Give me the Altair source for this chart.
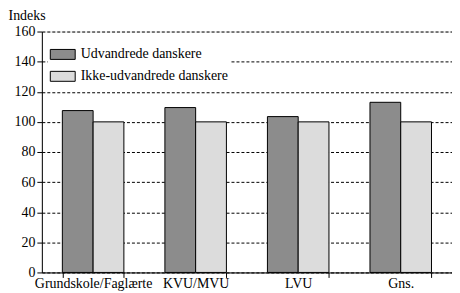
import altair as alt
import pandas as pd

categories = ["Grundskole/Faglærte", "KVU/MVU", "LVU", "Gns."]
series = ["Udvandrede danskere", "Ikke-udvandrede danskere"]
udvandrede = [107.5, 109.5, 103.5, 113]
ikke_udvandrede = [100, 100, 100, 100]

rows = []
for c, a, b in zip(categories, udvandrede, ikke_udvandrede):
    rows.append({"kategori": c, "gruppe": series[0], "indeks": a})
    rows.append({"kategori": c, "gruppe": series[1], "indeks": b})
df = pd.DataFrame(rows)

font = "Liberation Serif"

chart = alt.Chart(df).mark_bar(stroke="black", strokeWidth=1).encode(
    x=alt.X("kategori:N", sort=categories, title=None,
            scale=alt.Scale(paddingInner=0.4, paddingOuter=0.2),
            axis=alt.Axis(labelAngle=0, tickBand="extent", domainColor="black",
                          tickColor="black", labelColor="black", labelFont=font,
                          labelFontSize=14, labelPadding=-1, tickSize=5, grid=False)),
    xOffset=alt.XOffset("gruppe:N", sort=series),
    y=alt.Y("indeks:Q", title="Indeks",
            scale=alt.Scale(domain=[0, 160]),
            axis=alt.Axis(values=list(range(0, 161, 20)), grid=True, gridColor="black",
                          gridDash=[3, 2], gridWidth=1, domainColor="black",
                          tickColor="black", labelColor="black", labelFont=font,
                          labelFontSize=14, tickSize=5, labelPadding=2,
                          titleAngle=0, titleFont=font, titleFontSize=14,
                          titleFontWeight="normal", titleColor="black",
                          titleAlign="left", titleBaseline="bottom",
                          titleX=-34, titleY=-9)),
    fill=alt.Fill("gruppe:N", sort=series,
                  scale=alt.Scale(domain=series, range=["#8c8c8c", "#dcdcdc"]),
                  legend=alt.Legend(title=None, orient="none", legendX=6, legendY=8,
                                    symbolType="M-1,-0.4L1,-0.4L1,0.4L-1,0.4Z",
                                    symbolSize=625, symbolStrokeColor="black",
                                    symbolStrokeWidth=1, labelFont=font,
                                    labelFontSize=14, labelColor="black",
                                    fillColor="white", padding=2, rowPadding=2,
                                    labelOffset=5)),
).properties(width=412, height=242).configure_view(stroke=None).configure(padding={"left": 0, "top": 0, "right": 0, "bottom": 0})

chart.save("out.html", embed_options={"renderer": "svg", "actions": False})
